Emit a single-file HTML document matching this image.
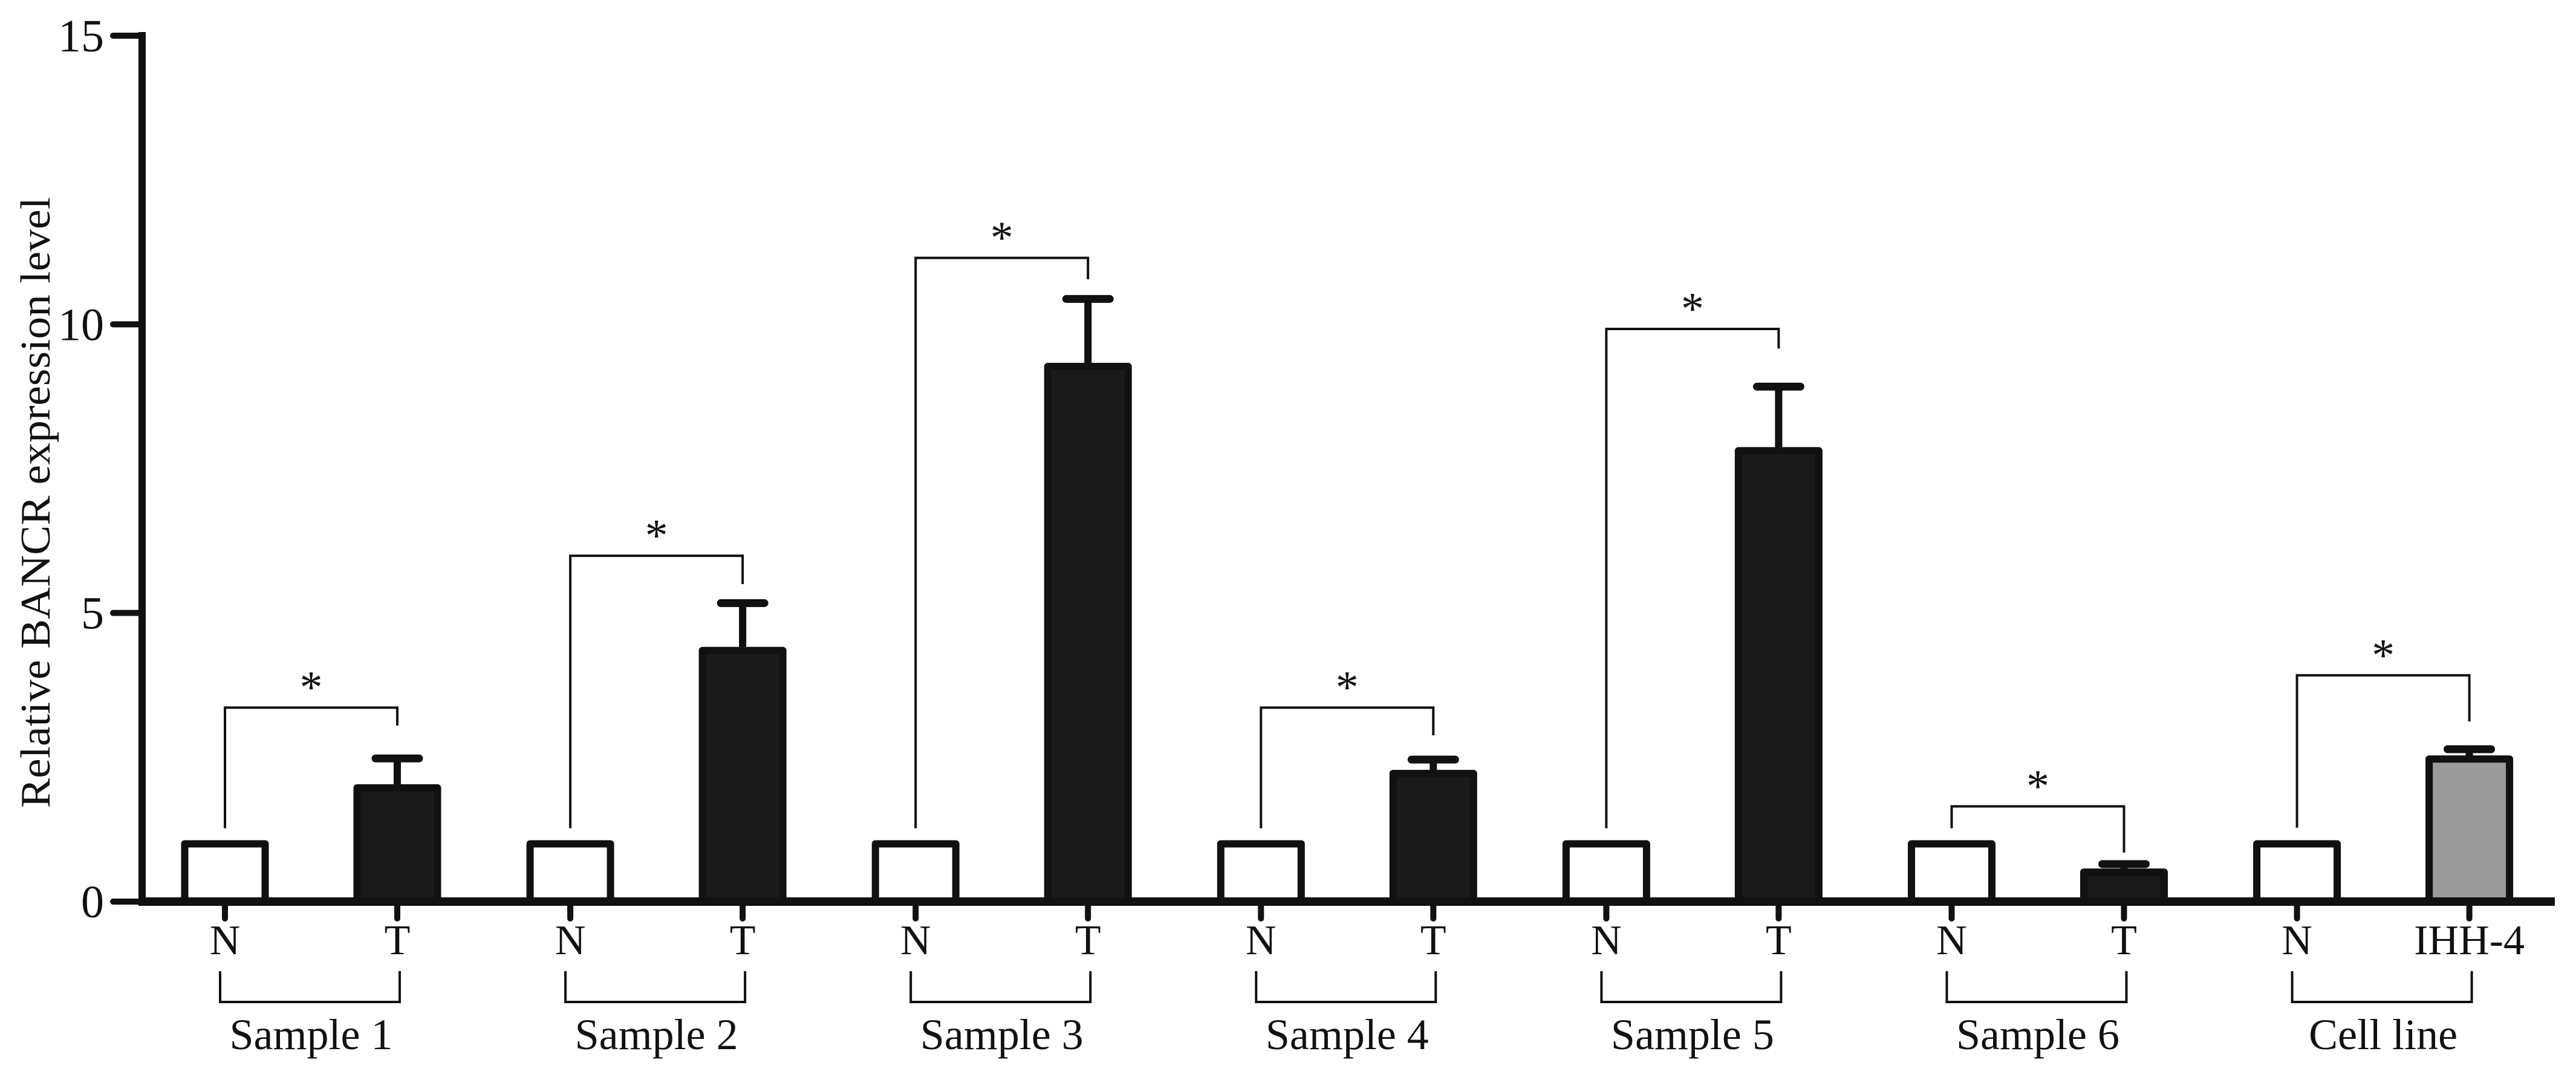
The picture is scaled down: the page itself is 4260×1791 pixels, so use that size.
<!DOCTYPE html>
<html><head><meta charset="utf-8"><style>
html,body{margin:0;padding:0;background:#fff;}
svg{display:block;}
text{font-family:"Liberation Serif",serif;fill:#111;}
</style></head><body>
<svg id="chart" width="4260" height="1791" viewBox="0 0 4260 1791" xmlns="http://www.w3.org/2000/svg">
<rect width="4260" height="1791" fill="#fff"/>
<g id="g"></g>
</svg>
<script>
const groups = ["Sample 1","Sample 2","Sample 3","Sample 4","Sample 5","Sample 6","Cell line"];
const nValues = [1,1,1,1,1,1,1];
const tValues = [1.97,4.35,9.27,2.22,7.81,0.51,2.47];
const tErrors = [0.51,0.82,1.17,0.24,1.11,0.14,0.17];
const tLabels = ["T","T","T","T","T","T","IHH-4"];
const bracketY = [3.36,5.99,11.15,3.36,9.92,1.65,3.92];
const rightLegEnd = [3.05,5.5,10.78,2.88,9.58,0.85,3.12];
const leftLegEnd = [1.27,1.27,1.27,1.27,1.27,1.27,1.28];
const yTicks = [0,5,10,15];

const NS="http://www.w3.org/2000/svg";
const g=document.getElementById('g');
const y0=1491, yTop=59, yMax=15;
const y=v=>y0-(y0-yTop)*v/yMax;
const groupX=i=>372+571.1*i;
const barW=133, sw=12, tOff=285;
function el(tag,attrs,parent){const e=document.createElementNS(NS,tag);for(const k in attrs)e.setAttribute(k,attrs[k]);(parent||g).appendChild(e);return e;}

const ya=el('line',{x1:235,y1:y(15)-6,x2:235,y2:y0+6,stroke:'#111','stroke-width':12});


yTicks.forEach(t=>{
  const tk=el('line',{x1:187,y1:y(t),x2:235,y2:y(t),stroke:'#111','stroke-width':10,'stroke-linecap':'round'});
  
  
  const tx=el('text',{x:172,y:y(t)+26,'font-size':76,'text-anchor':'end'});
  tx.textContent=t;
  
  
});
const yt=el('text',{x:0,y:0,'font-size':70,'text-anchor':'middle',transform:'translate(82,831) rotate(-90)',textLength:1010,lengthAdjust:'spacingAndGlyphs'});
yt.textContent='Relative BANCR expression level';



groups.forEach((name,i)=>{
  const nx=groupX(i), tx=nx+tOff;
  const nb=el('rect',{x:nx-barW/2,y:y(nValues[i]),width:barW,height:y0-y(nValues[i]),fill:'#fff',stroke:'#111','stroke-width':sw,'stroke-linejoin':'round'});
  
  
  const top=y(tValues[i]+tErrors[i]);
  const st=el('line',{x1:tx,y1:y(tValues[i]),x2:tx,y2:top,stroke:'#111','stroke-width':12});
  
  
  const cp=el('line',{x1:tx-36,y1:top,x2:tx+36,y2:top,stroke:'#111','stroke-width':13,'stroke-linecap':'round'});
  
  
  const isCell=i===groups.length-1;
  const tb=el('rect',{x:tx-barW/2,y:y(tValues[i]),width:barW,height:y0-y(tValues[i]),fill:isCell?'#9a9a9a':'#1a1a1a',stroke:'#111','stroke-width':sw,'stroke-linejoin':'round'});
  
  
  const bk=el('polyline',{points:`${nx},${y(leftLegEnd[i])} ${nx},${y(bracketY[i])} ${tx},${y(bracketY[i])} ${tx},${y(rightLegEnd[i])}`,fill:'none',stroke:'#111','stroke-width':4});
  
  
  const star=el('text',{x:(nx+tx)/2,y:y(bracketY[i])-8,'font-size':76,'text-anchor':'middle'});
  star.textContent='*';
  
  
  [[nx,'N'],[tx,tLabels[i]]].forEach(([x,l])=>{
    const t=el('line',{x1:x,y1:y0,x2:x,y2:1519,stroke:'#111','stroke-width':10,'stroke-linecap':'round'});
    
    
    const lt=el('text',{x:x,y:1578,'font-size':70,'text-anchor':'middle'});
    lt.textContent=l;
    
    
  });
  const gb=el('polyline',{points:`${nx-8},1606 ${nx-8},1657 ${tx+4},1657 ${tx+4},1606`,fill:'none',stroke:'#111','stroke-width':4});
  
  
  const gl=el('text',{x:(nx+tx)/2,y:1735,'font-size':72,'text-anchor':'middle'});
  gl.textContent=name;
  
  
});
const xa=el('line',{x1:229,y1:y0,x2:4225,y2:y0,stroke:'#111','stroke-width':14});


</script>
</body></html>
